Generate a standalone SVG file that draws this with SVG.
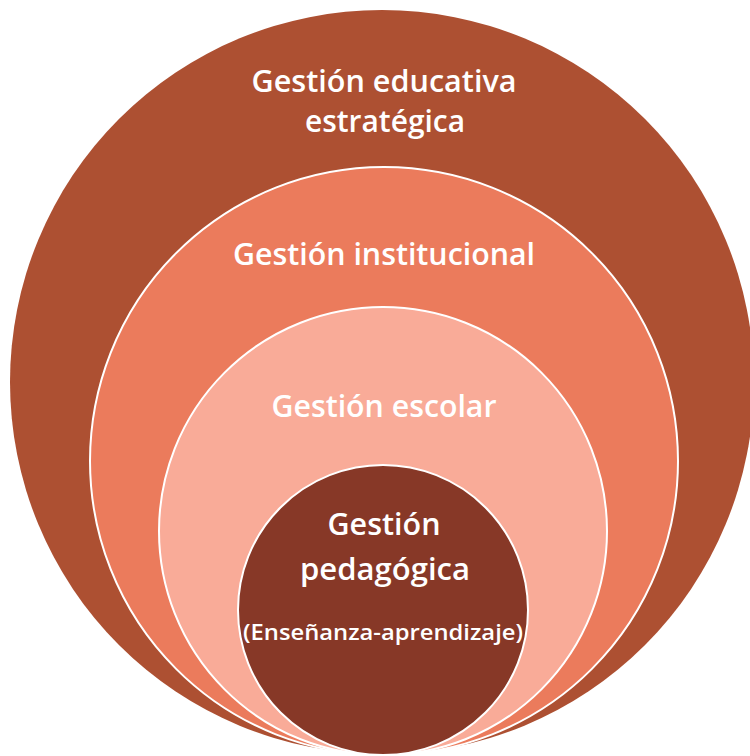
<svg xmlns="http://www.w3.org/2000/svg" width="750" height="756" viewBox="0 0 750 756">
<style>
.ring{stroke:#FFFFFF;stroke-width:2}
.t{font-family:"Open Sans","Liberation Sans",sans-serif;font-weight:600;fill:#FFFFFF;text-anchor:middle}
.big{font-size:30px}
.small{font-size:21px}
</style>
<rect width="750" height="756" fill="#FFFFFF"/>
<g id="n1">
<circle class="ring" cx="382" cy="382" r="372" fill="#AD5032" style="stroke:none"/>
<text class="t big" x="384" y="92" textLength="265" lengthAdjust="spacingAndGlyphs">Gestión educativa</text>
<text class="t big" x="385" y="132" textLength="160" lengthAdjust="spacingAndGlyphs">estratégica</text>
</g>
<g id="n2">
<circle class="ring" cx="384" cy="461" r="294" fill="#EB7B5C"/>
<text class="t big" x="384" y="265" textLength="302" lengthAdjust="spacingAndGlyphs">Gestión institucional</text>
</g>
<g id="n3">
<circle class="ring" cx="383" cy="531" r="224" fill="#F9AB98"/>
<text class="t big" x="384" y="417" textLength="225" lengthAdjust="spacingAndGlyphs">Gestión escolar</text>
</g>
<g id="n4">
<circle class="ring" cx="383" cy="610" r="145" fill="#873827"/>
<text class="t big" x="384" y="535" textLength="113" lengthAdjust="spacingAndGlyphs">Gestión</text>
<text class="t big" x="385" y="580" textLength="170" lengthAdjust="spacingAndGlyphs">pedagógica</text>
<text class="t small" x="383" y="640" textLength="280" lengthAdjust="spacingAndGlyphs">(Enseñanza-aprendizaje)</text>
</g>
<g id="connectors"/>
</svg>
